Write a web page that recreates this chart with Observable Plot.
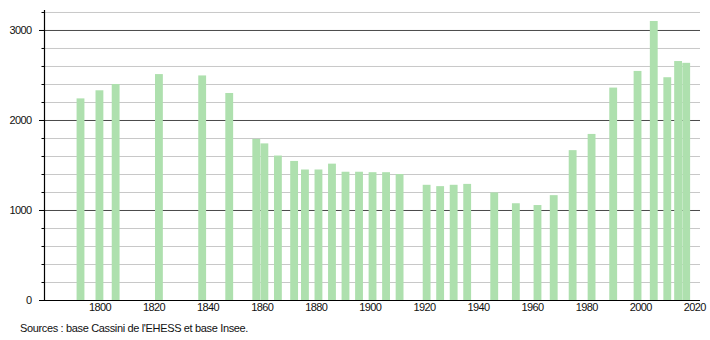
<!DOCTYPE html>
<html>
<head>
<meta charset="utf-8">
<script src="https://cdn.jsdelivr.net/npm/d3@7"></script>
<script src="https://cdn.jsdelivr.net/npm/@observablehq/plot@0.6"></script>
<style>
  html, body { margin: 0; padding: 0; background: #fff; }
  #chart svg { display: block; }
  #chart svg text { letter-spacing: -0.6px; }
  .caption { font: 11px "Liberation Sans", Arial, sans-serif; letter-spacing: -0.35px; color: #111; margin: 2px 0 0 20px; line-height: 13px; }
</style>
</head>
<body>
<div id="chart"></div>
<div class="caption">Sources : base Cassini de l'EHESS et base Insee.</div>
<script>
const years = [1793, 1800, 1806, 1822, 1838, 1848, 1858, 1861, 1866, 1872, 1876, 1881, 1886, 1891, 1896, 1901, 1906, 1911, 1921, 1926, 1931, 1936, 1946, 1954, 1962, 1968, 1975, 1982, 1990, 1999, 2005, 2010, 2014, 2017];
const population = [2240, 2330, 2400, 2510, 2495, 2300, 1790, 1740, 1605, 1545, 1450, 1450, 1515, 1425, 1425, 1420, 1420, 1400, 1280, 1265, 1280, 1290, 1195, 1075, 1055, 1165, 1665, 1845, 2360, 2545, 3100, 2475, 2655, 2635];
const xTicks = [1800, 1820, 1840, 1860, 1880, 1900, 1920, 1940, 1960, 1980, 2000, 2020];
const yMajor = [0, 1000, 2000, 3000];
const yMinor = [200, 400, 600, 800, 1200, 1400, 1600, 1800, 2200, 2400, 2600, 2800, 3200];

const data = years.map((y, i) => ({year: y, pop: population[i]}));
const half = 1.45;
const font = '"Liberation Sans", Arial, sans-serif';

const chart = Plot.plot({
  width: 710,
  height: 320,
  marginLeft: 44,
  marginRight: 10,
  marginTop: 10,
  marginBottom: 20,
  style: {fontFamily: font, fontSize: "11px", color: "#111", background: "#fff"},
  x: {domain: [1779.5, 2022.1], axis: null},
  y: {domain: [0, 3222], axis: null},
  marks: [
    Plot.ruleY(yMinor, {stroke: "#c8c8c8", strokeWidth: 1}),
    Plot.ruleY(yMajor.filter(v => v > 0), {stroke: "#4a4a4a", strokeWidth: 1}),
    Plot.rectY(data, {x1: d => d.year - half, x2: d => d.year + half, y: "pop", fill: "#aee0ae"}),
    Plot.axisY(yMajor, {tickSize: 5, tickPadding: 8, stroke: "#000", fill: "#111", label: null, fontSize: 11, tickFormat: d => String(d)}),
    Plot.axisY(yMinor, {tickSize: 2.5, text: null, stroke: "#000", label: null}),
    Plot.ruleX([1779.5], {y1: 0, y2: 3222, stroke: "#000", strokeWidth: 1.2}),
    Plot.ruleY([0], {stroke: "#000", strokeWidth: 1.2}),
    Plot.axisX(xTicks, {tickSize: 0, tickPadding: 3, fill: "#111", label: null, fontSize: 11, tickFormat: d => String(d)})
  ]
});
document.getElementById("chart").appendChild(chart);
</script>
</body>
</html>
